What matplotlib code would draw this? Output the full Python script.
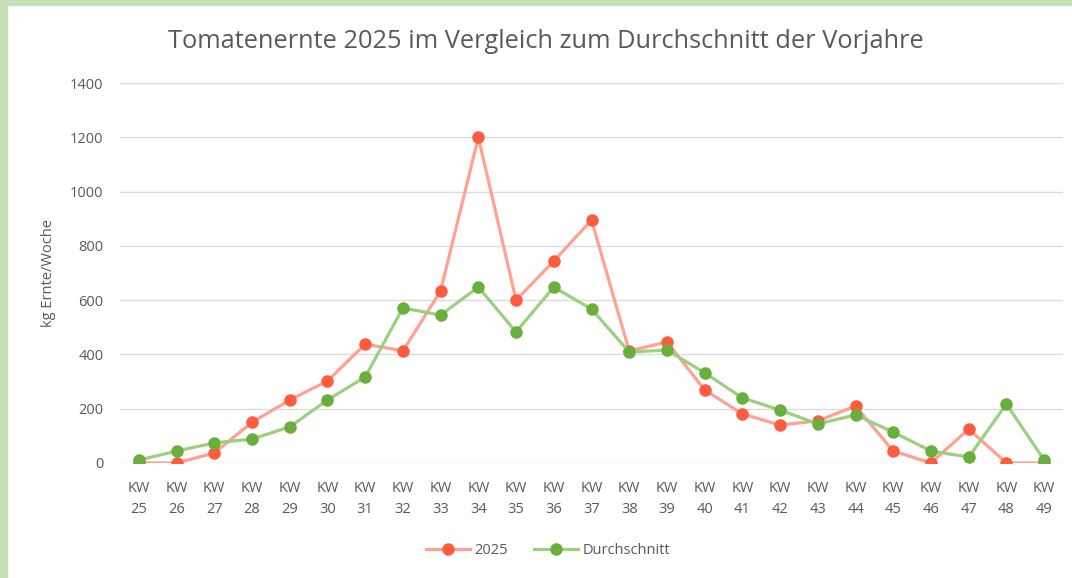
import matplotlib.pyplot as plt
import numpy as np
from matplotlib.patches import Rectangle

plt.rcParams['font.family'] = ['Open Sans', 'DejaVu Sans']

weeks = [f"KW\n{w}" for w in range(25, 50)]
ernte_2025 = [0, 0, 37, 150, 232, 302, 438, 413, 634, 1200, 600, 744, 895,
              413, 446, 269, 181, 140, 155, 210, 44, 0, 125, 0, 0]
durchschnitt = [11, 44, 74, 88, 133, 232, 317, 571, 545, 648, 483, 648, 567,
                409, 416, 332, 240, 195, 144, 177, 114, 44, 22, 217, 11]

fig = plt.figure(figsize=(10.72, 5.78), dpi=100)
fig.patch.set_facecolor('white')
# light green frame on left and top
fig.patches.append(Rectangle((0, 0), 7 / 1072, 1, transform=fig.transFigure,
                             color='#C5DFB9', zorder=0))
fig.patches.append(Rectangle((0, 1 - 5 / 578), 1, 5 / 578, transform=fig.transFigure,
                             color='#C5DFB9', zorder=0))

ax = fig.add_axes([120 / 1072, 115 / 578, 943 / 1072, 380 / 578])
x = np.arange(len(weeks))
ax.plot(x, ernte_2025, color='#FFA193', lw=2.3, marker='o', ms=8,
        mfc='#FF5B3F', mec='#FF5B3F', label='2025', zorder=3)
ax.plot(x, durchschnitt, color='#9DD07E', lw=2.3, marker='o', ms=8,
        mfc='#6AAE3E', mec='#6AAE3E', label='Durchschnitt', zorder=4)

ax.set_xlim(-0.5, len(weeks) - 0.5)
ax.set_ylim(0, 1400)
ax.set_yticks(np.arange(0, 1401, 200))
ax.set_xticks(x)
ax.set_xticklabels(weeks, linespacing=1.5)
ax.grid(axis='y', color='#DCDCDC', lw=1)
ax.set_axisbelow(True)
for s in ax.spines.values():
    s.set_visible(False)
ax.tick_params(length=0, colors='#595959', labelsize=10.5)
ax.tick_params(axis='y', pad=12)
ax.tick_params(axis='x', pad=13)

ax.set_ylabel('kg Ernte/Woche', color='#595959', fontsize=10.5, labelpad=10)
fig.text(546 / 1072, 1 - 42 / 578, 'Tomatenernte 2025 im Vergleich zum Durchschnitt der Vorjahre',
         ha='center', va='center', fontsize=18.3, color='#595959')

fig.legend(loc='center', bbox_to_anchor=(548 / 1072, 1 - 551 / 578), ncol=2, frameon=False,
           fontsize=10.5, labelcolor='#595959', handlelength=3, handletextpad=0.3,
           columnspacing=1.8)

fig.savefig('out.png', dpi=100)
